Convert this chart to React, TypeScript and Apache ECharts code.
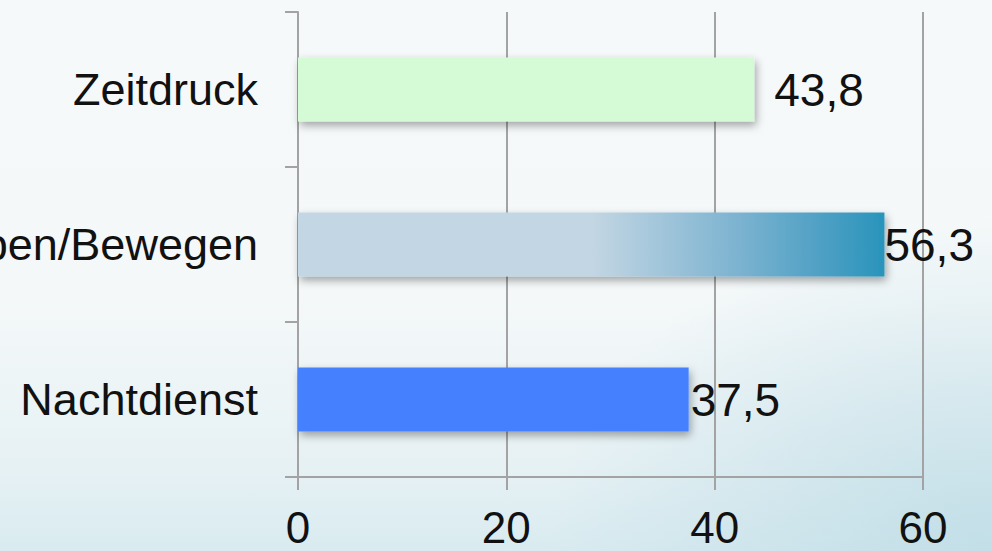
import React, { useEffect, useRef } from "react";
import * as echarts from "echarts";

// Category names (bottom to top) and their percentages
const categories = ["Nachtdienst", "Heben/Bewegen", "Zeitdruck"];
const values = [37.5, 56.3, 43.8];
const xTicks = { min: 0, max: 60, interval: 20 };

const FONT = '"Liberation Sans", Arial, sans-serif';
const AXIS_GRAY = "#a3a3a3";

export default function App() {
  const ref = useRef<HTMLDivElement>(null);

  useEffect(() => {
    if (!ref.current) return;
    const chart = echarts.init(ref.current, null, { renderer: "svg" });

    const barStyles = [
      { color: "#4481ff" },
      {
        color: new echarts.graphic.LinearGradient(0, 0, 1, 0, [
          { offset: 0, color: "#c3d6e3" },
          { offset: 0.5, color: "#c3d6e3" },
          { offset: 0.6, color: "#a7c8dc" },
          { offset: 0.75, color: "#7cb3d0" },
          { offset: 0.9, color: "#4c9fc4" },
          { offset: 1, color: "#2994bb" },
        ]),
      },
      { color: "#d5fbd6" },
    ];
    const labelGap = [2, 0, 20];

    chart.setOption({
      animation: false,
      backgroundColor: "transparent",
      grid: {
        left: 298,
        right: 69,
        top: 12,
        bottom: 74,
        containLabel: false,
        outerBoundsMode: "none",
      },
      xAxis: {
        type: "value",
        min: xTicks.min,
        max: xTicks.max,
        interval: xTicks.interval,
        axisLine: { show: true, lineStyle: { color: AXIS_GRAY, width: 2 } },
        axisTick: { show: true, length: 13, lineStyle: { color: AXIS_GRAY, width: 2 } },
        splitLine: { show: true, lineStyle: { color: AXIS_GRAY, width: 2 } },
        axisLabel: {
          color: "#111",
          fontFamily: FONT,
          fontSize: 44,
          margin: 28,
        },
      },
      yAxis: {
        type: "category",
        data: categories,
        axisLine: { show: true, lineStyle: { color: AXIS_GRAY, width: 2 } },
        axisTick: { show: true, length: 13, lineStyle: { color: AXIS_GRAY, width: 2 } },
        splitLine: { show: false },
        axisLabel: {
          color: "#111",
          fontFamily: FONT,
          fontSize: 45,
          margin: 40,
        },
      },
      series: [
        {
          type: "bar",
          barWidth: 64,
          data: values.map((v, i) => ({
            value: v,
            itemStyle: {
              ...barStyles[i],
              shadowColor: "rgba(0,0,0,0.35)",
              shadowBlur: 8,
              shadowOffsetX: 2,
              shadowOffsetY: 4,
            },
            label: { distance: labelGap[i] },
          })),
          label: {
            show: true,
            position: "right",
            color: "#111",
            fontFamily: FONT,
            fontSize: 46,
            formatter: (p: any) => String(p.value).replace(".", ","),
          },
        },
      ],
    });

    return () => chart.dispose();
  }, []);

  return (
    <div
      style={{
        position: "fixed",
        left: 0,
        top: 0,
        width: 992,
        height: 551,
        background:
          "radial-gradient(ellipse 45% 60% at 100% 100%, rgba(190,220,230,0.85), rgba(190,220,230,0) 100%), linear-gradient(180deg, #f6f9fa 0%, #f4f8f9 55%, #e6f1f4 85%, #d9ebf0 100%)",
      }}
    >
      <div ref={ref} style={{ width: 992, height: 551 }} />
    </div>
  );
}
